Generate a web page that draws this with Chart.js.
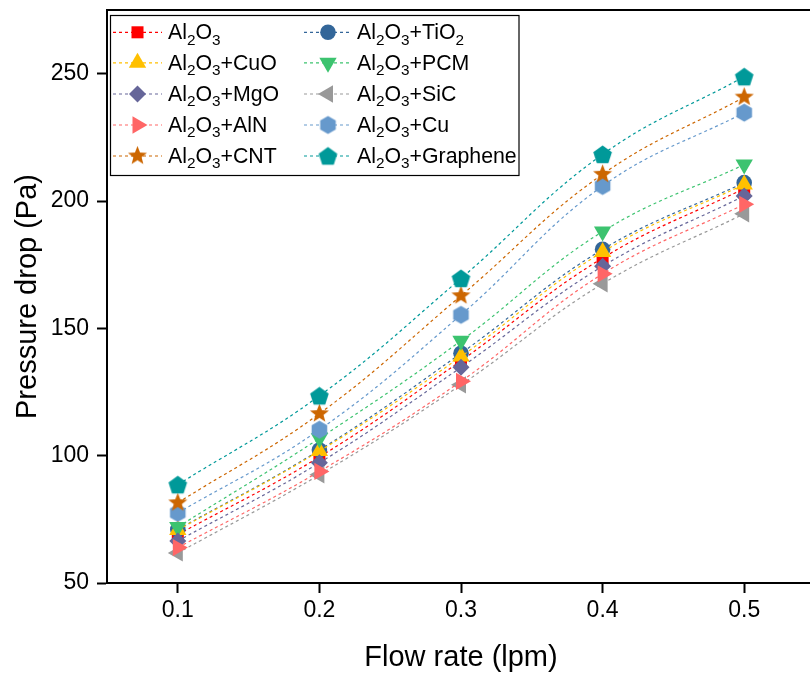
<!DOCTYPE html>
<html><head><meta charset="utf-8">
<script src="https://cdn.jsdelivr.net/npm/chart.js@4"></script>
<style>html,body{margin:0;padding:0;overflow:hidden;background:#fff}#wrap{width:825px;height:677px;position:relative}</style>
</head><body><div id="wrap"><canvas id="c"></canvas></div>
<script>
// ---- data ----
const flowRates = [0.1, 0.2, 0.3, 0.4, 0.5];
const xTicks = [0.1, 0.2, 0.3, 0.4, 0.5];
const yTicks = [50, 100, 150, 200, 250];
const seriesNames = ['Al₂O₃', 'Al₂O₃+CuO', 'Al₂O₃+MgO', 'Al₂O₃+AlN', 'Al₂O₃+CNT',
                     'Al₂O₃+TiO₂', 'Al₂O₃+PCM', 'Al₂O₃+SiC', 'Al₂O₃+Cu', 'Al₂O₃+Graphene'];
const al2o3         = [69.0, 99.5, 137.3, 177.6, 204.9];
const al2o3CuO      = [70.8, 101.8, 138.9, 180.0, 206.5];
const al2o3MgO      = [66.5, 97.2, 134.7, 174.4, 202.0];
const al2o3AlN      = [63.9, 93.8, 129.2, 171.4, 198.7];
const al2o3CNT      = [81.5, 116.5, 162.8, 210.5, 240.8];
const al2o3TiO2     = [71.0, 102.2, 140.2, 181.0, 207.2];
const al2o3PCM      = [72.0, 106.8, 145.1, 188.0, 214.3];
const al2o3SiC      = [61.8, 92.5, 127.8, 167.5, 195.0];
const al2o3Cu       = [77.5, 110.2, 155.3, 205.9, 234.7];
const al2o3Graphene = [88.6, 123.5, 169.6, 218.3, 248.8];
const seriesValues = [al2o3, al2o3CuO, al2o3MgO, al2o3AlN, al2o3CNT,
                      al2o3TiO2, al2o3PCM, al2o3SiC, al2o3Cu, al2o3Graphene];

// ---- styles ----
const FONT = "'Liberation Sans', Arial, sans-serif";
const colors = ['#ff0000', '#ffc000', '#666699', '#ff6666', '#cc6600',
                '#336699', '#3cc36f', '#999999', '#6699cc', '#009999'];
function shapeCanvas(kind, color) {
  const c = document.createElement('canvas');
  c.width = 21; c.height = 21;
  const g = c.getContext('2d');
  g.fillStyle = color;
  g.translate(10.5, 10.5);
  g.beginPath();
  if (kind === 'star') {
    const R = 10, r = 4.3;
    for (let i = 0; i < 10; i++) {
      const a = -Math.PI / 2 + i * Math.PI / 5;
      const rr = i % 2 ? r : R;
      g.lineTo(Math.cos(a) * rr, Math.sin(a) * rr);
    }
  } else {
    const n = kind === 'hex' ? 6 : 5;
    const R = kind === 'hex' ? 9 : 9.8;
    for (let i = 0; i < n; i++) {
      const a = -Math.PI / 2 + i * 2 * Math.PI / n;
      g.lineTo(Math.cos(a) * R, Math.sin(a) * R + (kind === 'pent' ? 0.8 : 0));
    }
  }
  g.closePath();
  g.fill();
  return c;
}
const markers = [
  {style: 'rect', r: 8.5, rot: 0},
  {style: 'triangle', r: 10, rot: 0},
  {style: 'rectRot', r: 8.5, rot: 0},
  {style: 'triangle', r: 10, rot: 90},
  {style: shapeCanvas('star', colors[4]), r: 9, rot: 0},
  {style: 'circle', r: 7.8, rot: 0},
  {style: 'triangle', r: 10, rot: 180},
  {style: 'triangle', r: 10, rot: 270},
  {style: shapeCanvas('hex', colors[8]), r: 9, rot: 0},
  {style: shapeCanvas('pent', colors[9]), r: 9, rot: 0}
];
// drawing order (lower = on top): row-wise Origin plotting order
const drawOrder = [9, 7, 5, 3, 1, 8, 6, 4, 2, 0];

const datasets = seriesNames.map((name, i) => ({
  label: name,
  data: flowRates.map((x, j) => ({x: x, y: seriesValues[i][j]})),
  borderColor: colors[i],
  backgroundColor: colors[i],
  borderWidth: 1.2,
  borderDash: [3, 3],
  tension: 0.4,
  pointStyle: markers[i].style,
  pointRadius: markers[i].r,
  pointRotation: markers[i].rot,
  pointBorderWidth: 0,
  pointBackgroundColor: colors[i],
  pointBorderColor: colors[i],
  order: drawOrder[i]
}));

function drawRich(ctx, text, x, y, size) {
  const sub = {'₀':'0','₁':'1','₂':'2','₃':'3','₄':'4','₅':'5','₆':'6','₇':'7','₈':'8','₉':'9'};
  let runs = [];
  for (const ch of text) {
    const isSub = !!sub[ch];
    const c = isSub ? sub[ch] : ch;
    if (runs.length && runs[runs.length - 1].sub === isSub) runs[runs.length - 1].t += c;
    else runs.push({t: c, sub: isSub});
  }
  let cx = x;
  for (const r of runs) {
    const s = r.sub ? size * 0.72 : size;
    ctx.font = s + 'px ' + FONT;
    ctx.fillText(r.t, cx, r.sub ? y + size * 0.25 : y);
    cx += ctx.measureText(r.t).width;
  }
}

const legendPlugin = {
  id: 'originLegend',
  afterDraw(chart) {
    const ctx = chart.ctx;
    ctx.save();
    ctx.setLineDash([]);
    ctx.lineWidth = 1.2;
    ctx.strokeStyle = '#000';
    ctx.strokeRect(110.5, 15.5, 408.5, 160);
    const rows = [32.3, 62.8, 94, 125, 156];
    const cols = [{x0: 113, x1: 162, mx: 137.5, tx: 168}, {x0: 304, x1: 350, mx: 328, tx: 357}];
    chart.data.datasets.forEach((ds, i) => {
      const col = cols[Math.floor(i / 5)];
      const y = rows[i % 5];
      ctx.save();
      ctx.strokeStyle = ds.borderColor;
      ctx.lineWidth = 1.2;
      ctx.setLineDash([3, 3]);
      ctx.beginPath();
      ctx.moveTo(col.x0, y); ctx.lineTo(col.x1, y);
      ctx.stroke();
      ctx.restore();
      ctx.save();
      ctx.fillStyle = ds.pointBackgroundColor;
      ctx.strokeStyle = ds.pointBorderColor;
      Chart.helpers.drawPoint(ctx, {pointStyle: ds.pointStyle, radius: ds.pointRadius, rotation: ds.pointRotation, borderWidth: 0}, col.mx, y);
      ctx.restore();
      ctx.fillStyle = '#000';
      ctx.textBaseline = 'alphabetic';
      drawRich(ctx, ds.label, col.tx, y + 7, 21.3);
    });
    ctx.restore();
  }
};

Chart.defaults.font.family = FONT;
new Chart(document.getElementById('c'), {
  type: 'line',
  data: {datasets: datasets},
  plugins: [legendPlugin],
  options: {
    responsive: true,
    maintainAspectRatio: false,
    animation: false,
    layout: {padding: {top: 7, right: 4, left: 0, bottom: 0}},
    plugins: {legend: {display: false}, tooltip: {enabled: false}},
    scales: {
      x: {
        type: 'linear', position: 'bottom', min: 0.05, max: 0.55,
        afterBuildTicks: s => { s.ticks = xTicks.map(v => ({value: v})); },
        afterFit: s => { s.height = 94; s.paddingLeft = 0; s.paddingRight = 0; },
        ticks: {font: {size: 23}, color: '#000', padding: 4, maxRotation: 0, autoSkip: false,
                callback: v => Number(v).toFixed(1)},
        grid: {drawOnChartArea: false, drawTicks: true, tickLength: 10, tickWidth: 2, tickColor: '#000'},
        border: {display: true, color: '#000', width: 2},
        title: {display: true, text: 'Flow rate (lpm)', color: '#000', font: {size: 29}, padding: {top: 0, bottom: 2}}
      },
      xTop: {
        type: 'linear', position: 'top', min: 0.05, max: 0.55,
        afterFit: s => { s.height = 0; s.paddingLeft = 0; s.paddingRight = 0; },
        ticks: {display: false},
        grid: {display: true, drawOnChartArea: false, drawTicks: false},
        border: {display: true, color: '#000', width: 2}
      },
      y: {
        type: 'linear', position: 'left', min: 50, max: 275,
        afterBuildTicks: s => { s.ticks = yTicks.map(v => ({value: v})); },
        afterFit: s => { s.width = 107; s.paddingTop = 0; s.paddingBottom = 0; },
        ticks: {font: {size: 23}, color: '#000', padding: 8},
        grid: {drawOnChartArea: false, drawTicks: true, tickLength: 10, tickWidth: 2, tickColor: '#000'},
        border: {display: true, color: '#000', width: 2},
        title: {display: true, text: 'Pressure drop (Pa)', color: '#000', font: {size: 29}, padding: {top: 11, bottom: 0}}
      }
    }
  }
});
</script>
</body></html>
